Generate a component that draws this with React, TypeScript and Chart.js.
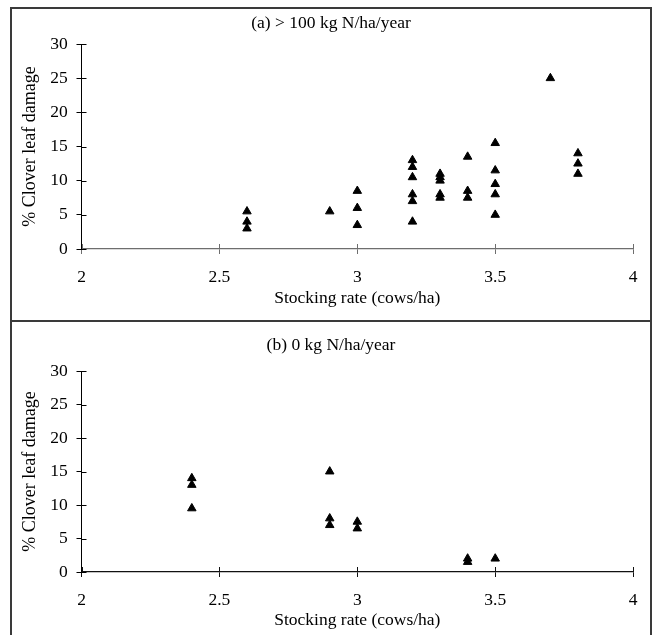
import { useEffect, useRef } from "react";
import { Chart, registerables } from "chart.js";

Chart.register(...registerables);

// ---------- data ----------
const xTickValues = [2, 2.5, 3, 3.5, 4];
const xTickLabels = ["2", "2.5", "3", "3.5", "4"];
const yTickValues = [0, 5, 10, 15, 20, 25, 30];
const yTickLabels = ["0", "5", "10", "15", "20", "25", "30"];

const panelATitle = "(a) > 100 kg N/ha/year";
const panelBTitle = "(b) 0 kg N/ha/year";
const xAxisTitle = "Stocking rate (cows/ha)";
const yAxisTitle = "% Clover leaf damage";

const panelARate = [
  2.6, 2.6, 2.6,
  2.9,
  3, 3, 3,
  3.2, 3.2, 3.2, 3.2, 3.2, 3.2,
  3.3, 3.3, 3.3, 3.3, 3.3,
  3.4, 3.4, 3.4,
  3.5, 3.5, 3.5, 3.5, 3.5,
  3.7,
  3.8, 3.8, 3.8,
];
const panelADamage = [
  5.5, 4, 3,
  5.5,
  8.5, 6, 3.5,
  13, 12, 10.5, 8, 7, 4,
  11, 10.5, 10, 8, 7.5,
  13.5, 8.5, 7.5,
  15.5, 11.5, 9.5, 8, 5,
  25,
  14, 12.5, 11,
];

const panelBRate = [2.4, 2.4, 2.4, 2.9, 2.9, 2.9, 3, 3, 3.4, 3.4, 3.5];
const panelBDamage = [14, 13, 9.5, 15, 8, 7, 7.5, 6.5, 2, 1.5, 2];

// ---------- styling ----------
const FONT = '"Liberation Serif", "Times New Roman", Times, serif';

const innerTicks = {
  id: "innerTicks",
  afterDraw(chart: any, _args: any, opts: any) {
    const { ctx, chartArea, scales } = chart;
    const len = 5;
    ctx.save();
    ctx.lineWidth = 1;
    ctx.strokeStyle = opts.yColor || "#000";
    scales.y.ticks.forEach((t: any) => {
      const py = Math.round(scales.y.getPixelForValue(t.value)) + 0.5;
      ctx.beginPath();
      ctx.moveTo(chartArea.left, py);
      ctx.lineTo(chartArea.left + len, py);
      ctx.stroke();
    });
    ctx.strokeStyle = opts.xColor || "#000";
    scales.x.ticks.forEach((t: any) => {
      const px = Math.round(scales.x.getPixelForValue(t.value)) + 0.5;
      ctx.beginPath();
      ctx.moveTo(px, chartArea.bottom);
      ctx.lineTo(px, chartArea.bottom - len);
      ctx.stroke();
    });
    ctx.restore();
  },
};

type PanelProps = {
  title: string;
  rate: number[];
  damage: number[];
  width: number;
  height: number;
  titlePad: { top: number; bottom: number };
  xScaleHeight: number;
  xTitlePadBottom: number;
  xAxisColor: string;
};

function ScatterPanel(p: PanelProps) {
  const ref = useRef<HTMLCanvasElement | null>(null);
  useEffect(() => {
    if (!ref.current) return;
    const points = p.rate.map((x, i) => ({ x, y: p.damage[i] }));
    const chart = new Chart(ref.current, {
      type: "scatter",
      data: {
        datasets: [
          {
            data: points,
            pointStyle: "triangle",
            pointRadius: 4.9,
            pointBackgroundColor: "#000",
            pointBorderColor: "#000",
            pointBorderWidth: 1,
          },
        ],
      },
      options: {
        animation: false,
        responsive: false,
        maintainAspectRatio: false,
        devicePixelRatio: 1,
        layout: { padding: 0 },
        plugins: {
          legend: { display: false },
          tooltip: { enabled: false },
          title: {
            display: true,
            text: p.title,
            color: "#000",
            font: { family: FONT, size: 17.5, weight: "normal" },
            padding: p.titlePad,
          },
          innerTicks: { xColor: p.xAxisColor, yColor: "#000" },
        } as any,
        scales: {
          x: {
            type: "linear",
            min: 2,
            max: 4,
            afterBuildTicks: (s: any) => {
              s.ticks = xTickValues.map((v) => ({ value: v }));
            },
            afterFit: (s: any) => {
              s.height = p.xScaleHeight;
            },
            ticks: {
              callback: (_v: any, i: number) => xTickLabels[i],
              color: "#000",
              font: { family: FONT, size: 17.5 },
              padding: 12.5,
              maxRotation: 0,
            },
            grid: {
              drawOnChartArea: false,
              drawTicks: true,
              tickLength: 5,
              color: p.xAxisColor,
              lineWidth: 1,
            },
            border: { display: true, color: p.xAxisColor, width: 1.3 },
            title: {
              display: true,
              text: xAxisTitle,
              color: "#000",
              font: { family: FONT, size: 17.5 },
              padding: { top: 0, bottom: p.xTitlePadBottom },
            },
          },
          y: {
            type: "linear",
            min: 0,
            max: 30,
            afterBuildTicks: (s: any) => {
              s.ticks = yTickValues.map((v) => ({ value: v }));
            },
            afterFit: (s: any) => {
              s.width = 69.5;
            },
            ticks: {
              callback: (_v: any, i: number) => yTickLabels[i],
              color: "#000",
              font: { family: FONT, size: 17.5 },
              padding: 8.8,
            },
            grid: {
              drawOnChartArea: false,
              drawTicks: true,
              tickLength: 5,
              color: "#000",
              lineWidth: 1,
            },
            border: { display: true, color: "#000", width: 1 },
            title: {
              display: true,
              text: yAxisTitle,
              color: "#000",
              font: { family: FONT, size: 18 },
              padding: { top: 7.2, bottom: 0 },
            },
          },
          // empty right-hand margin box so the title stays centred on the whole panel
          yRight: {
            type: "linear",
            position: "right",
            display: true,
            afterFit: (s: any) => {
              s.width = 15.3;
            },
            ticks: { display: false },
            grid: { display: false, drawTicks: false },
            border: { display: false },
            title: { display: false },
          },
        },
      },
      plugins: [innerTicks as any],
    });
    return () => chart.destroy();
  }, []);
  return (
    <canvas
      ref={ref}
      width={p.width}
      height={p.height}
      style={{ display: "block", width: p.width, height: p.height }}
    />
  );
}

export default function App() {
  const borderColor = "#3a3a3a";
  return (
    <div>
      <div
        style={{
          position: "absolute",
          left: 10,
          top: 7,
          width: 642,
          height: 315,
          boxSizing: "border-box",
          border: `2px solid ${borderColor}`,
          background: "#fff",
        }}
      >
        <ScatterPanel
          title={panelATitle}
          rate={panelARate}
          damage={panelADamage}
          width={638}
          height={311}
          titlePad={{ top: 3.5, bottom: 10.5 }}
          xScaleHeight={71}
          xTitlePadBottom={11}
          xAxisColor="#6e6e6e"
        />
      </div>
      <div
        style={{
          position: "absolute",
          left: 10,
          top: 322,
          width: 642,
          height: 313,
          boxSizing: "border-box",
          borderLeft: `2px solid ${borderColor}`,
          borderRight: `2px solid ${borderColor}`,
          background: "#fff",
        }}
      >
        <ScatterPanel
          title={panelBTitle}
          rate={panelBRate}
          damage={panelBDamage}
          width={638}
          height={313}
          titlePad={{ top: 12.5, bottom: 15.5 }}
          xScaleHeight={63}
          xTitlePadBottom={4}
          xAxisColor="#111"
        />
      </div>
    </div>
  );
}
